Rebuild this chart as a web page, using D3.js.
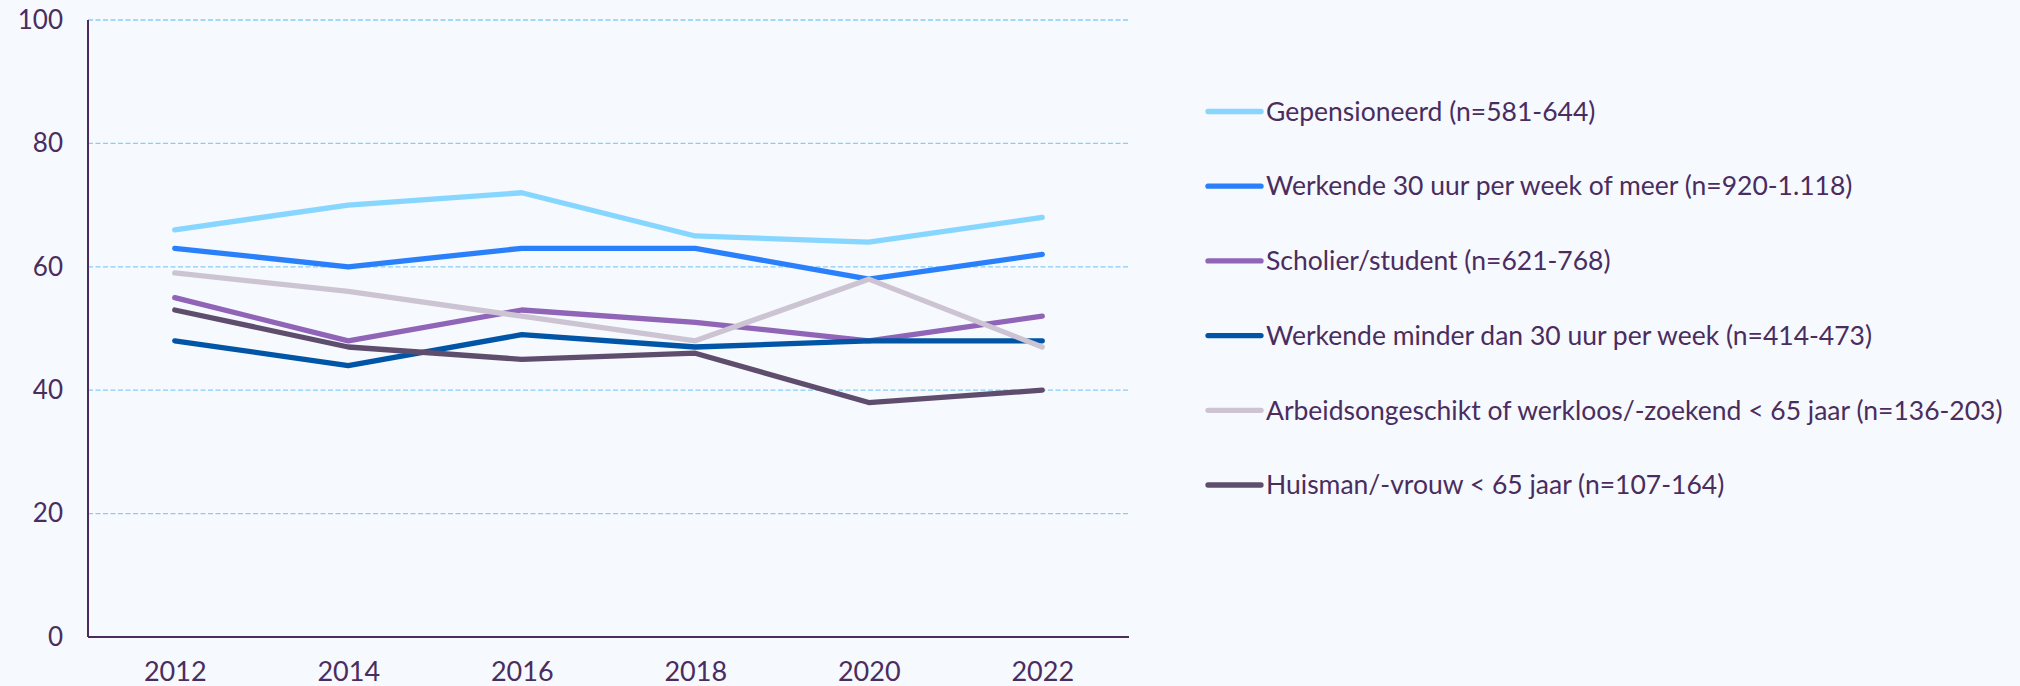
<!DOCTYPE html>
<html>
<head>
<meta charset="utf-8">
<script src="https://cdn.jsdelivr.net/npm/d3@7/dist/d3.min.js"></script>
<style>
  html, body { margin: 0; padding: 0; background: #f6f9fe; }
  svg { display: block; }
  text { font-family: Lato, "Open Sans", sans-serif; fill: #4a2d5e; }
</style>
</head>
<body>
<svg id="chart" width="2020" height="686"></svg>
<script>
const years = ["2012", "2014", "2016", "2018", "2020", "2022"];
const yTicks = [0, 20, 40, 60, 80, 100];
const seriesNames = [
  "Gepensioneerd (n=581-644)",
  "Werkende 30 uur per week of meer (n=920-1.118)",
  "Scholier/student (n=621-768)",
  "Werkende minder dan 30 uur per week (n=414-473)",
  "Arbeidsongeschikt of werkloos/-zoekend < 65 jaar (n=136-203)",
  "Huisman/-vrouw < 65 jaar (n=107-164)"
];
const seriesColors = ["#87d6ff", "#2a80fb", "#9064b6", "#0055a6", "#cdc4d3", "#5f4d6e"];
const gepensioneerd = [66, 70, 72, 65, 64, 68];
const werkende30plus = [63, 60, 63, 63, 58, 62];
const scholier = [55, 48, 53, 51, 48, 52];
const werkendeMinder30 = [48, 44, 49, 47, 48, 48];
const arbeidsongeschikt = [59, 56, 52, 48, 58, 47];
const huisman = [53, 47, 45, 46, 38, 40];
const seriesValues = [gepensioneerd, werkende30plus, scholier, werkendeMinder30, arbeidsongeschikt, huisman];

const svg = d3.select("#chart");
const mLeft = 88, mRight = 1129, mTop = 20, mBottom = 637;

const x = d3.scalePoint().domain(years).range([mLeft, mRight]).padding(0.5);
const y = d3.scaleLinear().domain([0, 100]).range([mBottom, mTop]);

// gridlines
svg.append("g")
  .selectAll("line")
  .data(yTicks.filter(d => d > 0))
  .join("line")
  .attr("x1", mLeft).attr("x2", mRight)
  .attr("y1", d => y(d)).attr("y2", d => y(d))
  .attr("stroke", "#86cdf7")
  .attr("stroke-width", 1.3)
  .attr("stroke-dasharray", "5,2.5");

// y axis
const yAxis = svg.append("g")
  .attr("transform", `translate(${mLeft},0)`)
  .call(d3.axisLeft(y).tickValues(yTicks).tickSize(0).tickPadding(25));
yAxis.select(".domain").attr("stroke", "#4a2d5e").attr("stroke-width", 2)
  .attr("d", `M0,${y(100)}V${mBottom}`);
yAxis.selectAll("text").style("font-size", "26px").style("fill", "#4a2d5e")
  .style("font-family", "Lato, sans-serif");

// x axis
const xAxis = svg.append("g")
  .attr("transform", `translate(0,${mBottom})`)
  .call(d3.axisBottom(x).tickSize(0).tickPadding(25));
xAxis.select(".domain").attr("stroke", "#4a2d5e").attr("stroke-width", 2)
  .attr("d", `M${mLeft},0H${mRight}`);
xAxis.selectAll("text").style("font-size", "27px").style("fill", "#4a2d5e")
  .style("font-family", "Lato, sans-serif");

// lines
const line = d3.line().x((d, i) => x(years[i])).y(d => y(d));
svg.append("g")
  .selectAll("path")
  .data(seriesValues)
  .join("path")
  .attr("d", d => line(d))
  .attr("fill", "none")
  .attr("stroke", (d, i) => seriesColors[i])
  .attr("stroke-width", 5.3)
  .attr("stroke-linecap", "round")
  .attr("stroke-linejoin", "round");

// legend
const legend = svg.append("g");
const items = legend.selectAll("g")
  .data(seriesNames)
  .join("g")
  .attr("transform", (d, i) => `translate(1206,${111.5 + i * 74.7})`);
items.append("line")
  .attr("x1", 2).attr("x2", 55)
  .attr("stroke", (d, i) => seriesColors[i])
  .attr("stroke-width", 5.3)
  .attr("stroke-linecap", "round");
items.append("text")
  .attr("x", 60)
  .attr("dy", "0.35em")
  .style("font-size", "26.5px")
  .text(d => d);
</script>
</body>
</html>
